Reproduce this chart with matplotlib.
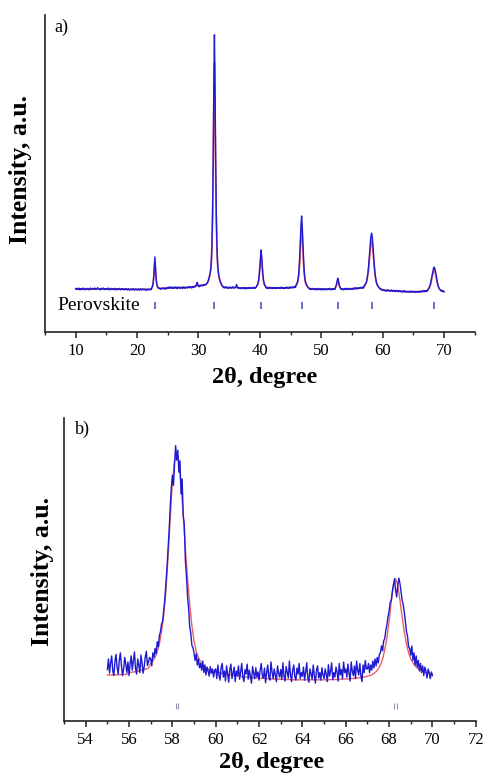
import numpy as np
import matplotlib
matplotlib.use("Agg")
import matplotlib.pyplot as plt
from matplotlib.ticker import MultipleLocator

plt.rcParams['font.family'] = ['Liberation Serif', 'DejaVu Serif']

# -----------------------------
# a) full pattern, 2theta = 10..70 step 0.1 (one row per degree)
start_a, step_a = 10.0, 0.1
obs_a = [
    137, 135, 138, 134, 136, 139, 135, 133, 137, 136,
    134, 137, 139, 136, 133, 135, 138, 136, 134, 137,
    138, 135, 133, 136, 139, 137, 134, 136, 138, 135,
    136, 139, 137, 134, 136, 138, 140, 137, 135, 136,
    133, 136, 138, 135, 137, 139, 136, 134, 137, 135,
    136, 134, 137, 139, 136, 133, 135, 138, 136, 134,
    137, 135, 134, 136, 138, 135, 133, 136, 137, 134,
    136, 138, 135, 133, 136, 137, 134, 136, 135, 133,
    135, 137, 134, 136, 133, 135, 137, 134, 132, 135,
    134, 136, 133, 135, 137, 134, 132, 135, 136, 133,
    135, 133, 136, 134, 132, 135, 137, 134, 133, 135,
    134, 136, 133, 135, 134, 132, 135, 133, 136, 134,
    133, 135, 136, 134, 140, 144, 153, 174, 208, 237,
    206, 172, 152, 145, 141, 138, 139, 137, 135, 138,
    137, 139, 136, 138, 140, 137, 135, 138, 140, 137,
    139, 142, 138, 140, 143, 139, 137, 140, 142, 138,
    140, 138, 141, 143, 139, 137, 140, 142, 139, 141,
    138, 140, 142, 139, 137, 141, 143, 140, 138, 141,
    140, 142, 139, 141, 143, 140, 142, 144, 141, 139,
    142, 144, 141, 143, 145, 143, 147, 150, 157, 149,
    145, 143, 146, 148, 145, 147, 149, 146, 148, 150,
    148, 150, 149, 152, 155, 158, 163, 170, 178, 186,
    201, 229, 284, 386, 559, 780, 937, 770, 550, 380,
    280, 225, 198, 180, 170, 163, 157, 152, 148, 145,
    143, 140, 142, 139, 141, 143, 140, 138, 141, 139,
    141, 139, 142, 140, 138, 141, 143, 140, 139, 141,
    140, 142, 150, 143, 140, 138, 141, 139, 137, 140,
    138, 140, 137, 139, 141, 138, 136, 139, 140, 137,
    139, 137, 140, 138, 141, 139, 137, 140, 138, 141,
    139, 141, 138, 140, 142, 146, 149, 155, 164, 182,
    209, 240, 259, 238, 207, 180, 163, 154, 148, 145,
    142, 138, 141, 139, 137, 140, 142, 139, 138, 140,
    137, 140, 138, 141, 139, 137, 140, 138, 141, 139,
    138, 141, 139, 137, 140, 142, 139, 138, 140, 137,
    140, 138, 141, 139, 142, 140, 138, 141, 139, 142,
    140, 142, 139, 141, 143, 140, 142, 144, 141, 149,
    152, 156, 165, 179, 204, 242, 289, 339, 366, 336,
    287, 240, 200, 176, 163, 154, 150, 146, 143, 139,
    138, 136, 134, 137, 135, 138, 136, 134, 137, 135,
    134, 137, 135, 133, 136, 138, 135, 134, 136, 133,
    136, 134, 137, 135, 133, 136, 134, 137, 135, 133,
    135, 137, 134, 136, 138, 135, 133, 136, 134, 137,
    135, 137, 134, 140, 145, 152, 162, 170, 163, 152,
    144, 140, 136, 134, 137, 135, 133, 136, 138, 135,
    134, 137, 135, 138, 136, 134, 137, 135, 138, 136,
    137, 135, 138, 136, 139, 137, 140, 138, 136, 139,
    138, 140, 137, 139, 141, 138, 140, 142, 139, 141,
    147, 149, 152, 155, 162, 173, 186, 205, 229, 255,
    283, 303, 312, 301, 280, 250, 222, 198, 180, 166,
    156, 150, 146, 143, 141, 138, 136, 134, 136, 133,
    131, 134, 132, 130, 133, 131, 129, 132, 134, 131,
    130, 132, 129, 131, 133, 130, 128, 131, 132, 129,
    131, 128, 130, 132, 129, 127, 130, 128, 131, 129,
    127, 130, 128, 126, 129, 131, 128, 126, 129, 127,
    128, 126, 129, 127, 125, 128, 130, 127, 126, 128,
    126, 129, 127, 125, 128, 126, 129, 127, 125, 128,
    127, 129, 126, 128, 130, 127, 129, 131, 128, 130,
    129, 131, 128, 130, 135, 137, 141, 146, 153, 163,
    173, 183, 194, 202, 205, 200, 192, 180, 170, 158,
    150, 143, 139, 135, 133, 130, 132, 129, 131, 128,
    127,
]

fit_a = [
    136, 136, 136, 136, 136, 136, 136, 136, 136, 136,
    136, 136, 136, 136, 136, 136, 136, 136, 136, 136,
    136, 136, 136, 136, 136, 136, 136, 136, 136, 136,
    136, 136, 136, 136, 136, 136, 136, 136, 136, 136,
    136, 136, 136, 136, 136, 136, 136, 136, 136, 136,
    136, 136, 136, 136, 136, 136, 136, 136, 136, 136,
    136, 136, 136, 136, 136, 136, 136, 136, 136, 136,
    136, 136, 136, 136, 136, 136, 136, 136, 136, 136,
    135, 135, 135, 135, 135, 135, 135, 135, 135, 135,
    135, 135, 135, 135, 135, 135, 135, 135, 135, 135,
    135, 135, 135, 135, 135, 135, 135, 135, 135, 135,
    135, 135, 135, 135, 135, 135, 135, 135, 135, 135,
    135, 135, 135, 136, 139, 143, 151, 168, 198, 222,
    196, 166, 150, 143, 140, 138, 138, 138, 138, 138,
    138, 138, 138, 138, 138, 138, 138, 138, 138, 138,
    139, 139, 139, 139, 140, 140, 140, 140, 140, 140,
    140, 140, 140, 140, 140, 140, 140, 140, 140, 140,
    140, 140, 140, 140, 140, 140, 140, 140, 140, 140,
    141, 141, 141, 141, 141, 141, 141, 141, 141, 141,
    142, 142, 142, 143, 143, 144, 145, 147, 152, 147,
    146, 146, 146, 147, 147, 147, 148, 148, 149, 149,
    150, 150, 151, 152, 154, 156, 160, 165, 173, 182,
    195, 218, 265, 355, 510, 720, 850, 705, 500, 348,
    260, 214, 192, 177, 168, 161, 156, 152, 148, 145,
    143, 142, 141, 141, 141, 141, 141, 141, 140, 140,
    140, 140, 140, 140, 140, 140, 140, 140, 140, 140,
    140, 141, 147, 141, 140, 139, 139, 139, 139, 139,
    139, 139, 139, 139, 139, 139, 139, 139, 139, 139,
    139, 139, 139, 139, 139, 139, 139, 139, 139, 139,
    139, 139, 139, 140, 141, 145, 148, 153, 161, 176,
    198, 225, 243, 223, 196, 174, 160, 152, 147, 144,
    141, 140, 139, 139, 139, 139, 139, 139, 139, 139,
    139, 139, 139, 139, 139, 139, 139, 139, 139, 139,
    139, 139, 139, 139, 139, 139, 139, 139, 139, 139,
    139, 139, 139, 139, 139, 139, 139, 139, 139, 139,
    140, 140, 140, 141, 141, 141, 141, 142, 144, 146,
    149, 153, 160, 172, 191, 222, 262, 305, 330, 303,
    260, 220, 188, 169, 158, 151, 147, 144, 142, 140,
    139, 138, 137, 137, 136, 136, 136, 136, 136, 136,
    136, 136, 136, 136, 136, 136, 136, 136, 136, 136,
    136, 136, 136, 136, 136, 136, 136, 136, 136, 136,
    136, 136, 136, 136, 136, 136, 136, 136, 136, 136,
    136, 136, 136, 139, 143, 149, 157, 164, 158, 149,
    142, 139, 137, 136, 136, 136, 136, 136, 136, 136,
    136, 136, 136, 136, 136, 136, 136, 136, 136, 136,
    137, 137, 137, 137, 137, 137, 137, 137, 137, 137,
    139, 139, 139, 139, 139, 139, 139, 139, 139, 139,
    144, 146, 149, 153, 159, 168, 180, 196, 218, 240,
    265, 282, 290, 280, 262, 236, 212, 190, 175, 163,
    155, 149, 146, 143, 141, 139, 137, 136, 135, 134,
    133, 133, 132, 132, 132, 131, 131, 131, 131, 131,
    130, 130, 130, 130, 130, 130, 130, 130, 130, 130,
    129, 129, 129, 129, 129, 129, 129, 129, 129, 129,
    128, 128, 128, 128, 128, 128, 128, 128, 128, 128,
    127, 127, 127, 127, 127, 127, 127, 127, 127, 127,
    127, 127, 127, 127, 127, 127, 127, 127, 127, 127,
    128, 128, 128, 128, 128, 128, 128, 128, 128, 128,
    129, 129, 130, 131, 134, 137, 140, 144, 150, 159,
    168, 177, 186, 193, 196, 191, 184, 174, 164, 155,
    147, 141, 138, 135, 133, 131, 130, 129, 128, 128,
    128,
]

# perovskite reflections
perov_pos = [22.9, 32.6, 40.2, 46.8, 52.7, 58.2, 68.4]

# -----------------------------
# b) zoom 55..70, observed step 0.05 (one row per degree), fit step 0.1
start_b, step_obs_b, step_fit_b = 55.0, 0.05, 0.1
obs_b = [
    170, 205, 158, 192, 215, 165, 150, 198, 220, 176, 155, 200, 225, 182, 150, 172, 210, 188, 160, 195,
    150, 190, 215, 168, 198, 228, 172, 155, 205, 185, 160, 218, 192, 158, 180, 212, 230, 184, 196, 210,
    205, 182, 225, 210, 240, 222, 262, 245, 282, 295, 320, 330, 365, 400, 450, 505, 565, 630, 705, 770,
    812, 778, 850, 910, 862, 895, 822, 860, 750, 800, 680, 648, 530, 480, 412, 372, 310, 290, 250, 242,
    225, 200, 222, 185, 205, 176, 190, 168, 198, 160, 185, 152, 178, 165, 148, 180, 158, 172, 145, 168,
    172, 140, 185, 152, 135, 178, 190, 145, 165, 132, 182, 155, 128, 170, 188, 140, 160, 178, 130, 165,
    150, 182, 138, 162, 190, 145, 130, 170, 155, 188, 138, 168, 148, 125, 180, 158, 140, 176, 145, 162,
    135, 168, 190, 150, 142, 175, 126, 160, 185, 145, 135, 195, 162, 140, 172, 152, 130, 182, 158, 145,
    170, 138, 192, 148, 132, 180, 160, 142, 198, 152, 130, 168, 185, 146, 135, 175, 155, 190, 140, 160,
    148, 178, 135, 162, 192, 142, 128, 172, 155, 138, 185, 150, 125, 168, 182, 142, 160, 135, 176, 152,
    140, 172, 155, 130, 186, 148, 165, 192, 136, 160, 145, 178, 162, 132, 190, 152, 170, 140, 195, 160,
    172, 145, 188, 158, 132, 195, 165, 150, 182, 140, 198, 168, 152, 190, 148, 130, 185, 160, 200, 172,
    172, 190, 160, 185, 168, 198, 175, 205, 182, 210, 192, 220, 225, 248, 232, 265, 272, 300, 318, 345,
    362, 392, 398, 428, 448, 470, 432, 410, 450, 472, 455, 428, 400, 385, 360, 330, 296, 280, 245, 240,
    218, 248, 200, 225, 185, 215, 178, 200, 165, 190, 160, 182, 150, 178, 165, 142, 172, 160, 140, 162,
    150,
]

fit_b = [
    152, 152, 152, 153, 153, 153, 153, 154, 154, 154,
    160, 161, 162, 163, 164, 166, 168, 170, 172, 175,
    190, 198, 210, 228, 255, 295, 350, 430, 540, 670,
    790, 860, 884, 855, 780, 680, 570, 470, 385, 315,
    265, 230, 210, 196, 186, 179, 174, 170, 167, 165,
    163, 161, 159, 157, 156, 154, 153, 152, 151, 150,
    149, 148, 147, 146, 145, 145, 144, 143, 143, 142,
    142, 141, 141, 140, 140, 139, 139, 139, 138, 138,
    138, 137, 137, 137, 137, 136, 136, 136, 136, 136,
    136, 136, 136, 136, 136, 136, 136, 136, 136, 136,
    136, 136, 136, 137, 137, 137, 137, 138, 138, 138,
    139, 139, 140, 140, 141, 142, 143, 144, 145, 146,
    148, 150, 153, 157, 163, 172, 185, 205, 235, 275,
    330, 395, 450, 470, 450, 400, 345, 295, 255, 225,
    205, 192, 182, 175, 170, 166, 163, 160, 158, 156,
    154,
]

# reflection doublets (Ka1/Ka2)
doublet_pos = [58.15, 58.28, 68.22, 68.38]

x_obs_a = start_a + step_a * np.arange(len(obs_a))
x_fit_a = start_a + step_a * np.arange(len(fit_a))
x_obs_b = start_b + step_obs_b * np.arange(len(obs_b))
x_fit_b = start_b + step_fit_b * np.arange(len(fit_b))

blue = '#1f1ad0'
red = '#e8606a'

fig = plt.figure(figsize=(4.85, 7.76), dpi=100)

def style_axis(ax):
    for s in ['top', 'right']:
        ax.spines[s].set_visible(False)
    for s in ['left', 'bottom']:
        ax.spines[s].set_linewidth(1.2)
        ax.spines[s].set_color('#222222')
    ax.set_yticks([])
    ax.tick_params(axis='x', which='major', direction='out', length=4,
                   width=1.1, labelsize=12, pad=4, color='#222222')
    ax.tick_params(axis='x', which='minor', direction='out', length=2.5,
                   width=1.0, color='#222222')

# Panel a
ax1 = fig.add_axes([0.0928, 0.572, 0.886, 0.409])
ax1.plot(x_fit_a, fit_a, color=red, lw=1.2, zorder=2)
ax1.plot(x_obs_a, obs_a, color=blue, lw=1.0, zorder=3)
ax1.vlines(perov_pos, 73, 95, color='#5a68c8', lw=1.3)
ax1.text(7, 84, 'Perovskite', fontsize=14, va='center', ha='left')
ax1.text(6.6, 960, 'a)', fontsize=13, va='center', ha='left')
ax1.set_xlim(5, 75)
ax1.set_ylim(0, 1000)
ax1.xaxis.set_major_locator(MultipleLocator(10))
ax1.xaxis.set_minor_locator(MultipleLocator(5))
style_axis(ax1)

# Panel b
ax2 = fig.add_axes([0.132, 0.0709, 0.849, 0.390])
ax2.plot(x_fit_b, fit_b, color=red, lw=1.0, zorder=2)
ax2.plot(x_obs_b, obs_b, color=blue, lw=1.0, zorder=3)
ax2.vlines(doublet_pos, 40, 60, color='#9a90b0', lw=0.8)
ax2.text(53.5, 963, 'b)', fontsize=13, va='center', ha='left')
ax2.set_xlim(53, 72)
ax2.set_ylim(0, 1000)
ax2.xaxis.set_major_locator(MultipleLocator(2))
ax2.xaxis.set_minor_locator(MultipleLocator(1))
style_axis(ax2)

# axis titles
fig.text(0.546, 0.513, '2θ, degree', fontsize=17.5, fontweight='bold',
         ha='center', va='center')
fig.text(0.043, 0.781, 'Intensity, a.u.', fontsize=18.5, fontweight='bold',
         rotation=90, ha='center', va='center')
fig.text(0.561, 0.017, '2θ, degree', fontsize=17.5, fontweight='bold',
         ha='center', va='center')
fig.text(0.0866, 0.263, 'Intensity, a.u.', fontsize=18.5, fontweight='bold',
         rotation=90, ha='center', va='center')

fig.savefig('out.png', dpi=100)
